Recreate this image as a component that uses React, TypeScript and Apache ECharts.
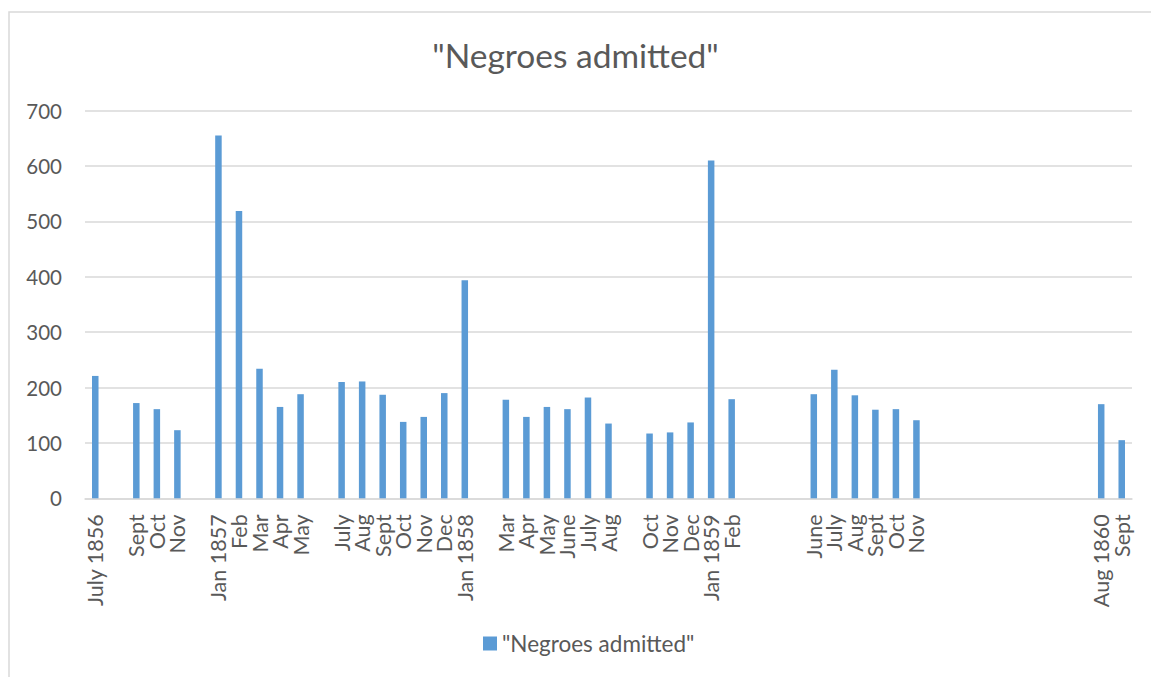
import React, { useEffect, useRef } from "react";
import * as echarts from "echarts";

const seriesName = '"Negroes admitted"';
const titleText = '"Negroes admitted"';

const months: string[] = [
  "July 1856", "", "Sept", "Oct", "Nov", "",
  "Jan 1857", "Feb", "Mar", "Apr", "May", "",
  "July", "Aug", "Sept", "Oct", "Nov", "Dec",
  "Jan 1858", "", "Mar", "Apr", "May", "June", "July", "Aug", "",
  "Oct", "Nov", "Dec",
  "Jan 1859", "Feb", "", "", "",
  "June", "July", "Aug", "Sept", "Oct", "Nov",
  "", "", "", "", "", "", "", "",
  "Aug 1860", "Sept",
];

const admitted: (number | null)[] = [
  221, null, 172, 161, 123, null,
  655, 519, 234, 165, 188, null,
  210, 211, 187, 138, 147, 190,
  394, null, 178, 147, 165, 161, 182, 135, null,
  117, 119, 137,
  610, 179, null, null, null,
  188, 232, 186, 160, 161, 141,
  null, null, null, null, null, null, null, null,
  170, 105,
];

const yTicks = { min: 0, max: 700, interval: 100 };

const FONT = "Lato, 'Open Sans', sans-serif";
const TEXT = "#595959";
const GRID = "#d9d9d9";
const BAR = "#5b9bd5";

export default function App() {
  const ref = useRef<HTMLDivElement>(null);

  useEffect(() => {
    if (!ref.current) return;
    const chart = echarts.init(ref.current, undefined, { renderer: "svg" });
    chart.setOption({
      animation: false,
      backgroundColor: "#ffffff",
      textStyle: { fontFamily: FONT },
      title: {
        text: titleText,
        left: "center",
        top: 33,
        textStyle: { fontFamily: FONT, fontSize: 33.5, fontWeight: "normal", color: TEXT },
      },
      graphic: [
        {
          type: "rect",
          shape: { x: 9, y: 12, width: 1160, height: 700 },
          style: { fill: "none", stroke: GRID, lineWidth: 1.5 },
          silent: true,
          z: -1,
        },
      ],
      legend: {
        left: 483,
        top: 632,
        padding: 0,
        icon: "rect",
        itemWidth: 14,
        itemHeight: 14,
        itemGap: 5,
        textStyle: { fontFamily: FONT, fontSize: 22.5, color: TEXT, padding: [0, 0, 0, 0] },
        data: [seriesName],
      },
      grid: { left: 85, right: 19, top: 110.7, bottom: 178.7, containLabel: false },
      xAxis: {
        type: "category",
        data: months,
        axisLine: { show: true, lineStyle: { color: GRID, width: 1.5 } },
        axisTick: { show: false },
        axisLabel: {
          interval: 0,
          rotate: 90,
          margin: 16,
          fontFamily: FONT,
          fontSize: 21.5,
          color: TEXT,
        },
      },
      yAxis: {
        type: "value",
        min: yTicks.min,
        max: yTicks.max,
        interval: yTicks.interval,
        axisLine: { show: false },
        axisTick: { show: false },
        splitLine: { lineStyle: { color: GRID, width: 1.5 } },
        axisLabel: { margin: 23, fontFamily: FONT, fontSize: 20.5, color: TEXT },
      },
      series: [
        {
          name: seriesName,
          type: "bar",
          data: admitted,
          barWidth: 6.5,
          itemStyle: { color: BAR },
        },
      ],
    });
    return () => chart.dispose();
  }, []);

  return (
    <div
      ref={ref}
      style={{ position: "fixed", left: 0, top: 0, width: 1151, height: 677 }}
    />
  );
}
